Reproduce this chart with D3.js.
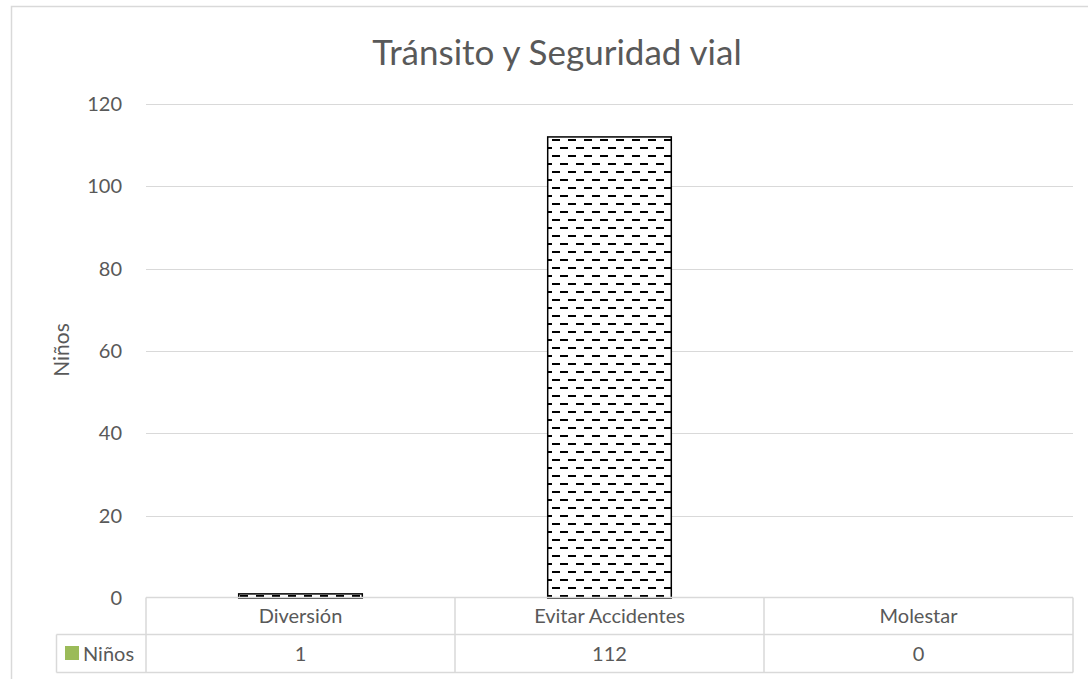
<!DOCTYPE html>
<html>
<head>
<meta charset="utf-8">
<script src="https://cdn.jsdelivr.net/npm/d3@7"></script>
<style>
  html, body { margin: 0; padding: 0; background: #fff; }
  svg { display: block; }
</style>
</head>
<body>
<script>
const categories = ["Diversión", "Evitar Accidentes", "Molestar"];
const values = [1, 112, 0];
const seriesName = "Niños";
const yTicks = [0, 20, 40, 60, 80, 100, 120];

const width = 1088, height = 679;
const font = "Lato, 'Open Sans', sans-serif";
const textColor = "#595959";
const lineColor = "#d9d9d9";

const svg = d3.select("body").append("svg")
    .attr("width", width)
    .attr("height", height);

// hatch pattern for the bars
const defs = svg.append("defs");
const pat = defs.append("pattern")
    .attr("id", "dashH")
    .attr("patternUnits", "userSpaceOnUse")
    .attr("width", 16)
    .attr("height", 16);
pat.append("rect").attr("width", 16).attr("height", 16).attr("fill", "#fff");
pat.append("rect").attr("x", 0).attr("y", 3).attr("width", 8).attr("height", 2).attr("fill", "#000");
pat.append("rect").attr("x", 8).attr("y", 11).attr("width", 8).attr("height", 2).attr("fill", "#000");

// chart border
svg.append("rect")
    .attr("x", 11.5).attr("y", 6.5)
    .attr("width", 1100).attr("height", 700)
    .attr("fill", "none")
    .attr("stroke", lineColor)
    .attr("stroke-width", 1.5);

const plotLeft = 146, plotRight = 1073;
const y = d3.scaleLinear().domain([0, 120]).range([598, 104]);
const x = d3.scaleBand().domain(categories).range([plotLeft, plotRight])
    .paddingInner(0.6).paddingOuter(0.3);
const xCell = d3.scaleBand().domain(categories).range([plotLeft, plotRight]);

// title
svg.append("text")
    .attr("x", 557).attr("y", 65)
    .attr("text-anchor", "middle")
    .attr("font-family", font)
    .attr("font-size", 35)
    .attr("fill", textColor)
    .text("Tránsito y Seguridad vial");

// gridlines
svg.append("g")
    .selectAll("line")
    .data(yTicks.filter(d => d > 0))
    .join("line")
    .attr("x1", plotLeft).attr("x2", plotRight)
    .attr("y1", d => Math.round(y(d)) + 0.5)
    .attr("y2", d => Math.round(y(d)) + 0.5)
    .attr("stroke", lineColor)
    .attr("stroke-width", 1);

// y axis labels
const yAxis = svg.append("g")
    .attr("transform", `translate(${plotLeft - 24},0)`)
    .call(d3.axisLeft(y).tickValues(yTicks).tickSize(0).tickPadding(0));
yAxis.select(".domain").remove();
yAxis.selectAll("text")
    .attr("font-family", font)
    .attr("font-size", 20)
    .attr("fill", textColor);

// y axis title
svg.append("text")
    .attr("transform", "translate(69,350) rotate(-90)")
    .attr("text-anchor", "middle")
    .attr("font-family", font)
    .attr("font-size", 21)
    .attr("fill", textColor)
    .text(seriesName);

// bars
svg.append("g")
    .selectAll("rect")
    .data(values.map((v, i) => ({ cat: categories[i], v })).filter(d => d.v > 0))
    .join("rect")
    .attr("x", d => x(d.cat))
    .attr("y", d => y(d.v))
    .attr("width", x.bandwidth())
    .attr("height", d => y(0) - y(d.v))
    .attr("fill", "url(#dashH)")
    .attr("stroke", "#000")
    .attr("stroke-width", 1.5);

// data table
const rowTop = 597.5, rowMid = 634.5, rowBot = 672.5, legendLeft = 56.5;
const table = svg.append("g")
    .attr("stroke", lineColor)
    .attr("stroke-width", 1.5)
    .attr("fill", "none");
table.append("line").attr("x1", plotLeft).attr("x2", plotRight).attr("y1", rowTop).attr("y2", rowTop);
table.append("line").attr("x1", legendLeft).attr("x2", plotRight).attr("y1", rowMid).attr("y2", rowMid);
table.append("line").attr("x1", legendLeft).attr("x2", plotRight).attr("y1", rowBot).attr("y2", rowBot);
table.append("line").attr("x1", legendLeft).attr("x2", legendLeft).attr("y1", rowMid).attr("y2", rowBot);
table.selectAll("line.v")
    .data(categories)
    .join("line")
    .attr("class", "v")
    .attr("x1", d => xCell(d)).attr("x2", d => xCell(d))
    .attr("y1", rowTop).attr("y2", rowBot);
table.append("line").attr("x1", plotRight).attr("x2", plotRight).attr("y1", rowTop).attr("y2", rowBot);

svg.append("g")
    .selectAll("text")
    .data(categories)
    .join("text")
    .attr("x", d => xCell(d) + xCell.bandwidth() / 2)
    .attr("y", 623)
    .attr("text-anchor", "middle")
    .attr("font-family", font)
    .attr("font-size", 20)
    .attr("fill", textColor)
    .text(d => d);

svg.append("g")
    .selectAll("text")
    .data(values)
    .join("text")
    .attr("x", (d, i) => xCell(categories[i]) + xCell.bandwidth() / 2)
    .attr("y", 661)
    .attr("text-anchor", "middle")
    .attr("font-family", font)
    .attr("font-size", 20)
    .attr("fill", textColor)
    .text(d => d);

// legend key
svg.append("rect")
    .attr("x", 65).attr("y", 646)
    .attr("width", 14).attr("height", 14)
    .attr("fill", "#9bbb59");
svg.append("text")
    .attr("x", 83).attr("y", 661)
    .attr("font-family", font)
    .attr("font-size", 20)
    .attr("fill", textColor)
    .text(seriesName);
</script>
</body>
</html>
